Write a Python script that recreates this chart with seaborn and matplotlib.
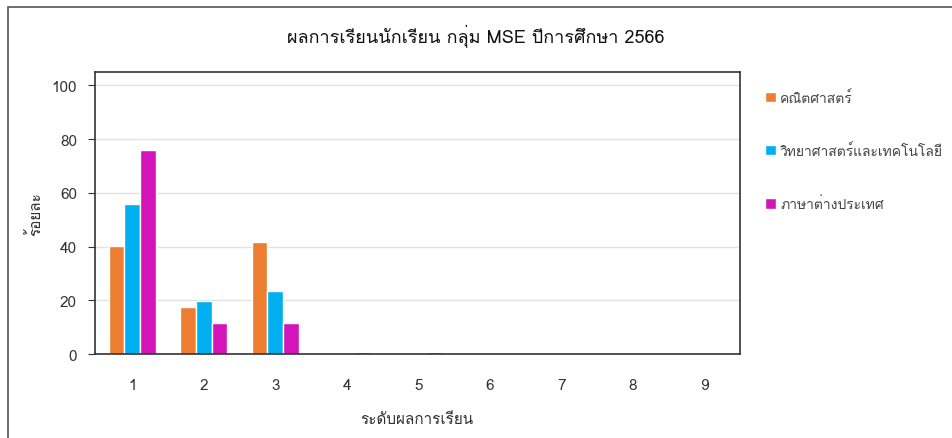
import matplotlib
matplotlib.use("Agg")
import matplotlib.pyplot as plt
from matplotlib import font_manager
from matplotlib.ft2font import FT2Font
from matplotlib.patches import Rectangle
import pandas as pd
import seaborn as sns

levels = ["1", "2", "3", "4", "5", "6", "7", "8", "9"]
math_pct = [40.3, 17.5, 41.8, 0, 0, 0, 0, 0, 0]
science_pct = [56.0, 19.8, 23.5, 0, 0, 0, 0, 0, 0]
language_pct = [75.8, 11.5, 11.5, 0.8, 0.8, 0, 0, 0, 0]
subjects = ["คณิตศาสตร์", "วิทยาศาสตร์และเทคโนโลยี", "ภาษาต่างประเทศ"]
colors = ["#ED7D31", "#00B0F0", "#D414BA"]

df = pd.DataFrame({
    "level": levels * 3,
    "pct": math_pct + science_pct + language_pct,
    "subject": [s for s in subjects for _ in levels],
})

# look for any installed font that has Thai glyphs
thai_fonts = []
for f in font_manager.fontManager.ttflist:
    try:
        if FT2Font(f.fname).get_char_index(ord("ก")) and f.name not in thai_fonts:
            thai_fonts.append(f.name)
    except Exception:
        pass

sns.set_style("white")
plt.rcParams['font.family'] = thai_fonts + ['Noto Sans', 'DejaVu Sans']

fig = plt.figure(figsize=(9.52, 4.39), dpi=100)
ax = fig.add_axes([0.0998, 0.191, 0.677, 0.643])

sns.barplot(data=df, x="level", y="pct", hue="subject", palette=colors,
            width=0.66, saturation=1, ax=ax)

ax.set_ylim(0, 105)
ax.set_xlim(-0.52, 8.49)
ax.set_yticks([0, 20, 40, 60, 80, 100])
ax.yaxis.grid(True, color="#e3e3e3", linewidth=1)
ax.set_axisbelow(True)
for s in ax.spines.values():
    s.set_color("#333333")
    s.set_linewidth(1.2)
ax.tick_params(axis="y", left=True, length=5, color="#333333", labelsize=11, labelcolor="#333333", pad=8)
ax.tick_params(axis="x", bottom=False, labelsize=11, labelcolor="#333333", pad=14)

ax.set_ylabel("ร้อยละ", fontsize=11, color="#333333", labelpad=6)
ax.set_xlabel("ระดับผลการเรียน", fontsize=11, color="#333333", labelpad=14)
fig.suptitle("ผลการเรียนนักเรียน กลุ่ม MSE ปีการศึกษา 2566", y=0.945, x=0.5, fontsize=13, color="#111111")

ax.legend(loc="upper left", bbox_to_anchor=(1.02, 0.98), frameon=False, fontsize=10,
          handlelength=0.8, handleheight=0.8, handletextpad=0.3, labelspacing=2.75,
          labelcolor="#444444")

fig.add_artist(Rectangle((8 / 952, -0.1), 2, 1 - 8 / 439 + 0.1, transform=fig.transFigure,
                         fill=False, edgecolor="#555555", linewidth=1.2))

fig.savefig("out.png", dpi=100)
